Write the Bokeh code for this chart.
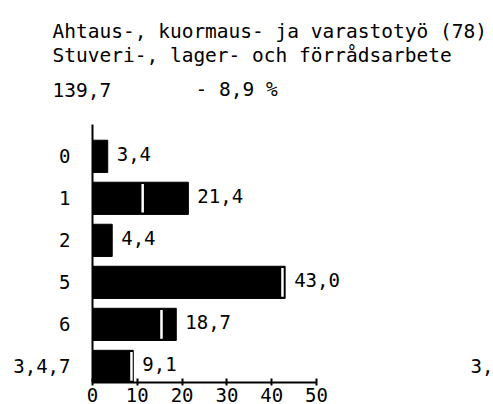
from bokeh.plotting import figure
from bokeh.models import Range1d, FixedTicker
from bokeh.core.properties import value
from bokeh.embed import file_html
from bokeh.resources import INLINE

# ---- data ----
categories = ["0", "1", "2", "5", "6", "3,4,7"]
values = [3.4, 21.4, 4.4, 43.0, 18.7, 9.1]
value_labels = ["3,4", "21,4", "4,4", "43,0", "18,7", "9,1"]
marker_categories = ["1", "5", "6", "3,4,7"]
marker_values = [11.2, 42.4, 15.4, 8.7]
x_ticks = [0, 10, 20, 30, 40, 50]
title_line1 = "Ahtaus-, kuormaus- ja varastotyö (78)"
title_line2 = "Stuveri-, lager- och förrådsarbete"
total_text = "139,7"
change_text = "- 8,9 %"
cropped_text = "3,"

FONT = "DejaVu Sans Mono"
FS = "19px"
FS_TITLE = "19.5px"

# ---- layout (pixels) ----
W, H = 493, 404
X0_PX = 92.0          # where value 0 sits
PX_PER_UNIT = 4.48    # 10 units = 44.8 px
AX_TOP_PX = 123.0     # top of the vertical axis line
AX_BOT_PX = 380.0     # bottom axis line
ROW_PX = 41.8
Y_BOTTOM = -0.383
Y_TOP_AXIS = Y_BOTTOM + (AX_BOT_PX - AX_TOP_PX) / ROW_PX


def dx(px):
    return (px - X0_PX) / PX_PER_UNIT


def dy(py):
    return Y_BOTTOM + (AX_BOT_PX - py) / ROW_PX


n = len(categories)
ypos = {c: n - 1 - i for i, c in enumerate(categories)}

p = figure(width=W, height=H, output_backend="svg", toolbar_location=None,
           x_range=Range1d(dx(0), dx(W)), y_range=Range1d(Y_BOTTOM, dy(0)),
           min_border_left=0, min_border_right=0, min_border_top=0,
           min_border_bottom=0)
p.outline_line_color = None
p.xgrid.visible = False
p.ygrid.visible = False
p.background_fill_color = "white"
p.border_fill_color = "white"

# bars
p.hbar(y=[ypos[c] for c in categories], left=0, right=values, height=0.766,
       fill_color="black", line_color="black")

# white markers inside bars
my = [ypos[c] for c in marker_categories]
p.segment(x0=marker_values, x1=marker_values,
          y0=[y - 0.34 for y in my], y1=[y + 0.34 for y in my],
          line_color="white", line_width=2.5)

# value labels
p.text(x=values, y=[ypos[c] for c in categories], text=value_labels,
       x_offset=9, y_offset=-2, text_baseline="middle", text_align="left",
       text_font=value(FONT), text_font_size=FS, text_color="black")

# cropped neighbour text at right edge
p.text(x=[dx(470)], y=[ypos["3,4,7"]], text=[cropped_text],
       text_baseline="middle", text_align="left",
       text_font=value(FONT), text_font_size=FS, text_color="black")

# heading lines
p.text(x=[dx(52), dx(52), dx(52), dx(195)],
       y=[dy(31), dy(55), dy(89), dy(89)],
       text=[title_line1, title_line2, total_text, change_text],
       text_baseline="alphabetic", text_align="left",
       text_font=value(FONT), text_font_size=FS_TITLE, text_color="black")

# axes
xa = p.xaxis[0]
xa.ticker = FixedTicker(ticks=x_ticks)
xa.bounds = (0, 50)
xa.axis_line_width = 2
xa.major_tick_in = 4
xa.major_tick_out = 3
xa.minor_tick_line_color = None
xa.major_tick_line_width = 2
xa.major_label_standoff = 2
xa.major_label_text_font = FONT
xa.major_label_text_font_size = FS
xa.major_label_text_color = "black"

ya = p.yaxis[0]
ya.fixed_location = 0
ya.bounds = (Y_BOTTOM, Y_TOP_AXIS)
ya.ticker = FixedTicker(ticks=list(range(n)))
ya.major_label_overrides = {ypos[c]: c for c in categories}
ya.axis_line_width = 2
ya.major_tick_line_color = None
ya.minor_tick_line_color = None
ya.major_tick_in = 0
ya.major_tick_out = 0
ya.major_label_standoff = 22
ya.major_label_text_font = FONT
ya.major_label_text_font_size = FS
ya.major_label_text_color = "black"

open("out.html", "w").write(file_html(p, INLINE))
